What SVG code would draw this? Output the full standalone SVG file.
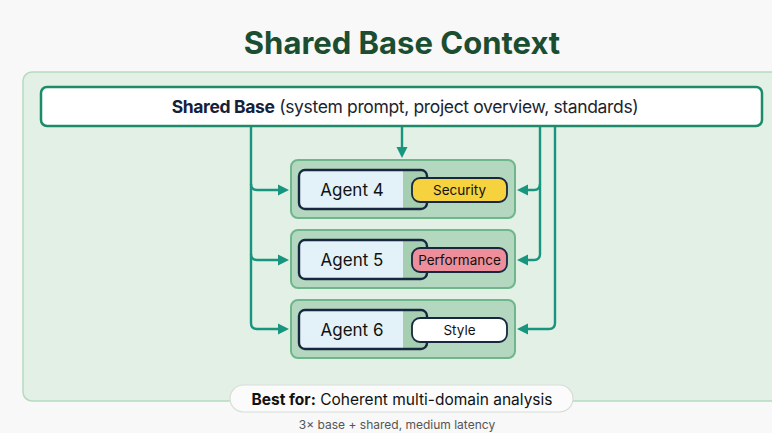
<svg xmlns="http://www.w3.org/2000/svg" width="772" height="433" viewBox="0 0 772 433">
  <style>
    text { font-family: Inter, "Noto Sans", "DejaVu Sans", sans-serif; }
    .title { font-size: 31px; font-weight: 700; fill: #1b4d30; }
    .base-label { font-size: 17.5px; fill: #1c2430; letter-spacing: -0.35px; }
    .base-label .strong { font-weight: 700; fill: #15213b; }
    .agent-outer { fill: #b4d8bf; stroke: #6fb68c; stroke-width: 2; }
    .agent-inner-bg { fill: #a6cfb2; }
    .agent-inner-fill { fill: #e3f1f8; }
    .agent-inner-edge { fill: none; stroke: #16273f; stroke-width: 2.4; }
    .agent-label { font-size: 17px; fill: #111; text-anchor: middle; }
    .tag { stroke: #16273f; stroke-width: 1.8; }
    .tag-label { font-size: 13.5px; fill: #111; text-anchor: middle; }
    .wire { fill: none; stroke: #18957f; stroke-width: 2.4; marker-end: url(#arrow); }
    .pill-text { font-size: 15.5px; fill: #111; text-anchor: middle; }
    .note { font-size: 12px; fill: #555; text-anchor: middle; }
  </style>
  <defs>
    <marker id="arrow" markerUnits="userSpaceOnUse" markerWidth="13" markerHeight="13" refX="2" refY="6.5" orient="auto">
      <path d="M0,1 L11,6.5 L0,12 Z" fill="#18957f"/>
    </marker>
  </defs>

  <!-- page -->
  <rect x="0" y="0" width="772" height="433" fill="#f7f8f7"/>

  <!-- heading -->
  <text class="title" x="402" y="54" text-anchor="middle">Shared Base Context</text>

  <!-- panel -->
  <rect x="23" y="72" width="780" height="329" rx="9" fill="#e2f0e5" stroke="#b5dac0" stroke-width="1.5"/>

  <!-- shared base -->
  <g id="shared-base">
    <rect x="41" y="87" width="721" height="39" rx="6" fill="#ffffff" stroke="#1d8a69" stroke-width="2.5"/>
    <text class="base-label" x="405" y="113" text-anchor="middle"><tspan class="strong">Shared Base</tspan> (system prompt, project overview, standards)</text>
  </g>

  <!-- connectors -->
  <g id="connectors">
    <path class="wire" d="M402,127 V149"/>
    <path class="wire" d="M251,127 V323 Q251,329 257,329 H280"/>
    <path class="wire" d="M251,184 Q251,190 257,190 H280"/>
    <path class="wire" d="M251,254 Q251,260 257,260 H280"/>
    <path class="wire" d="M540,127 V254 Q540,260 534,260 H526"/>
    <path class="wire" d="M540,184 Q540,190 534,190 H526"/>
    <path class="wire" d="M555,127 V323 Q555,329 549,329 H526"/>
  </g>

  <!-- agent 4 -->
  <g id="agent-4">
    <rect class="agent-outer" x="291" y="160" width="224" height="58" rx="7"/>
    <rect class="agent-inner-bg" x="299" y="170" width="128" height="39" rx="6"/>
    <path class="agent-inner-fill" d="M305,170 H403 V209 H305 Q299,209 299,203 V176 Q299,170 305,170 Z"/>
    <rect class="agent-inner-edge" x="299" y="170" width="128" height="39" rx="6"/>
    <text class="agent-label" x="352" y="196">Agent 4</text>
    <rect class="tag" x="412" y="178" width="95" height="24" rx="8" fill="#f5d23e"/>
    <text class="tag-label" x="459.5" y="195">Security</text>
  </g>

  <!-- agent 5 -->
  <g id="agent-5">
    <rect class="agent-outer" x="291" y="230" width="224" height="58" rx="7"/>
    <rect class="agent-inner-bg" x="299" y="240" width="128" height="39" rx="6"/>
    <path class="agent-inner-fill" d="M305,240 H403 V279 H305 Q299,279 299,273 V246 Q299,240 305,240 Z"/>
    <rect class="agent-inner-edge" x="299" y="240" width="128" height="39" rx="6"/>
    <text class="agent-label" x="352" y="266">Agent 5</text>
    <rect class="tag" x="412" y="248" width="95" height="24" rx="8" fill="#ee8e9b"/>
    <text class="tag-label" x="459.5" y="265">Performance</text>
  </g>

  <!-- agent 6 -->
  <g id="agent-6">
    <rect class="agent-outer" x="291" y="300" width="224" height="58" rx="7"/>
    <rect class="agent-inner-bg" x="299" y="310" width="128" height="39" rx="6"/>
    <path class="agent-inner-fill" d="M305,310 H403 V349 H305 Q299,349 299,343 V316 Q299,310 305,310 Z"/>
    <rect class="agent-inner-edge" x="299" y="310" width="128" height="39" rx="6"/>
    <text class="agent-label" x="352" y="336">Agent 6</text>
    <rect class="tag" x="412" y="318" width="95" height="24" rx="8" fill="#ffffff"/>
    <text class="tag-label" x="459.5" y="335">Style</text>
  </g>

  <!-- summary -->
  <g id="best-for">
    <rect x="230" y="385" width="343" height="27" rx="13.5" fill="#fbfbfb" stroke="#d8ddd9" stroke-width="1.2"/>
    <text class="pill-text" x="402" y="405"><tspan font-weight="700">Best for:</tspan> Coherent multi-domain analysis</text>
  </g>
  <text class="note" x="397" y="429">3× base + shared, medium latency</text>
</svg>
